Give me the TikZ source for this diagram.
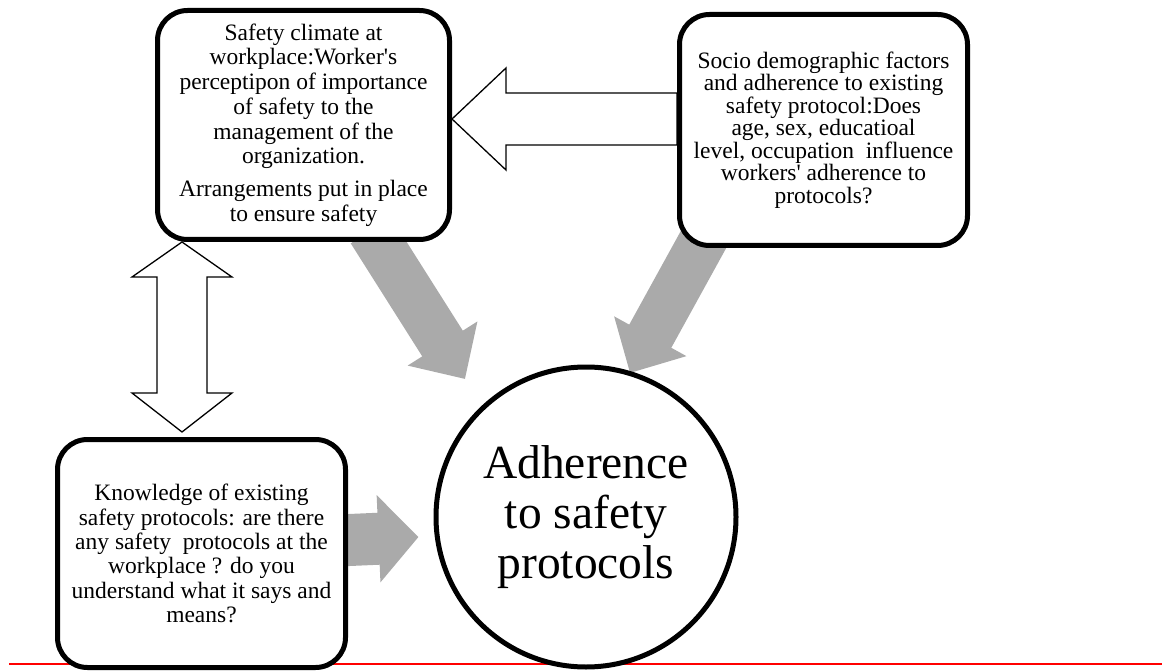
\documentclass[tikz,border=0pt]{standalone}
\usepackage{fontspec}
\setmainfont{Liberation Serif}[Ligatures=TeXOff]
\usetikzlibrary{arrows.meta,calc,backgrounds}

\definecolor{arrowgray}{RGB}{170,170,170}
\definecolor{rulered}{RGB}{255,0,0}

\tikzset{
  factorbox/.style={draw, fill=white, line width=5pt, rounded corners=30pt,
    align=center, inner sep=0pt, minimum width=290pt, minimum height=229pt},
  goalcircle/.style={circle, draw, fill=white, line width=5pt, inner sep=0pt,
    align=center, minimum size=300pt},
  bigarrow/.style={draw=arrowgray, line width=48pt,
    -{Triangle[length=42pt,width=80pt]}},
  hollowarrow/.style={draw=black, fill=white, line width=1.3pt, line join=miter},
}

\begin{document}
\begin{tikzpicture}[x=1pt,y=-1pt]
  \useasboundingbox (0,0) rectangle (1168,671);

  \node[factorbox, minimum width=292pt, font=\fontsize{23.5pt}{24.7pt}\selectfont]
    (climate) at (303.5,125) {Safety climate at\\workplace:Worker's\\
    perceptipon of importance\\of safety to the\\management of the\\
    organization.\\[8pt]Arrangements put in place\\to ensure safety};
  \node[factorbox, minimum width=288pt, minimum height=231pt,
    font=\fontsize{23.5pt}{22.5pt}\selectfont]
    (socio) at (823.5,130) {Socio demographic factors\\and adherence to existing\\
    safety protocol:Does\\age, sex, educatioal\\level, occupation\ \ influence\\
    workers' adherence to\\protocols?};
  \node[factorbox, minimum width=288pt, minimum height=228pt,
    font=\fontsize{23.5pt}{24.4pt}\selectfont]
    (knowledge) at (201.5,553.5) {Knowledge of existing\\safety protocols: are there\\
    any safety\ \ protocols at the\\workplace ? do you\\understand what it says and\\
    means?};
  \node[goalcircle, font=\fontsize{47.5pt}{50pt}\selectfont]
    (adherence) at (586,517) {Adherence\\to safety\\protocols};

  \begin{scope}[on background layer]
    % page rule
    \draw[rulered, line width=2pt] (9,664) -- (1162,664);
    % influences on adherence
    \draw[bigarrow] ($(climate.south)+(67.5,-11.5)$) -- ($(adherence)+(-121,-138)$);
    \draw[bigarrow] ($(socio.south)+(-117.5,-13)$) -- ($(adherence)+(44,-144)$);
    \draw[bigarrow, line width=52pt, -{Triangle[length=40pt,width=85pt]}]
      ($(knowledge.east)+(-10,-13)$) -- ($(adherence.west)+(-15,20)$);
    % hollow arrows
    \draw[hollowarrow] (climate.east |- 0,119) -- (506,68) -- (506,93)
      -- (socio.west |- 0,93) -- (socio.west |- 0,145) -- (506,145)
      -- (506,170) -- cycle;
    \draw[hollowarrow] (climate.south -| 182,0) -- (232,277) -- (207,277)
      -- (207,393) -- (232,393) -- (182,432) -- (132,393) -- (157,393)
      -- (157,277) -- (132,277) -- cycle;
  \end{scope}
\end{tikzpicture}
\end{document}
